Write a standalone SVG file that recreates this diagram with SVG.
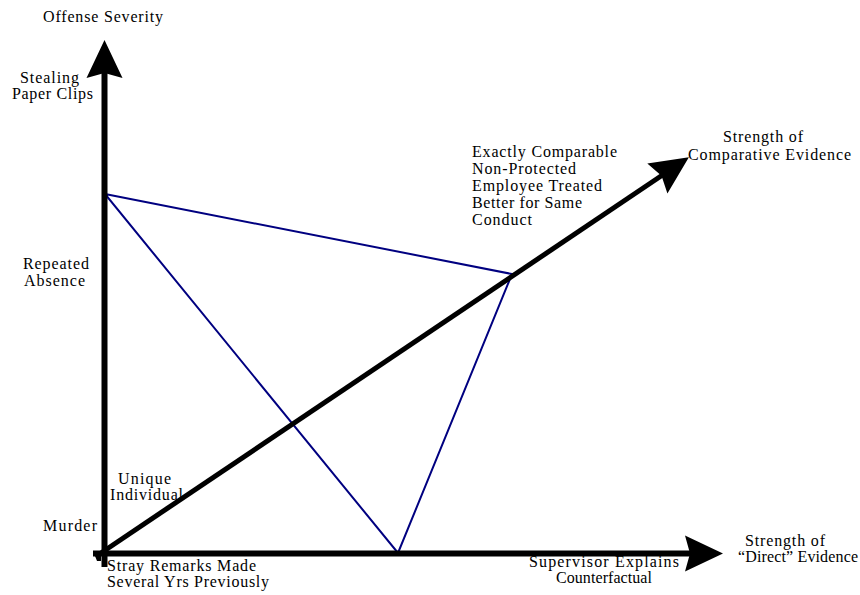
<svg xmlns="http://www.w3.org/2000/svg" width="860" height="595" viewBox="0 0 860 595">
<style>
text { font-family: "Liberation Serif", "Times New Roman", serif; font-size: 16px; fill: #000; }
.axis { stroke: #000; stroke-width: 6; fill: none; }
.diag { stroke: #000; stroke-width: 5; fill: none; }
.tri { stroke: #000080; stroke-width: 2; fill: none; stroke-linejoin: miter; }
</style>
<defs>
<marker id="head" markerUnits="userSpaceOnUse" viewBox="-10 -20 45 40" markerWidth="45" markerHeight="40" refX="0" refY="0" orient="auto" overflow="visible">
<path d="M30,0 L-8,-18 L-3,0 L-8,18 Z" fill="#000"/>
</marker>
</defs>
<rect width="860" height="595" fill="#fff"/>
<g id="connectors">
<polygon points="105,194 512,274 398,553" class="tri"/>
<line class="axis" x1="104.5" y1="567" x2="104.5" y2="70" marker-end="url(#head)"/>
<line class="axis" x1="93" y1="553.5" x2="693" y2="553.5" marker-end="url(#head)"/>
<polygon points="93,551 101,551 101,561 97,561" fill="#000"/>
<line class="diag" x1="101" y1="553" x2="664" y2="174" marker-end="url(#head)"/>
</g>
<g id="y-axis-title"><text x="43" y="22" textLength="120" lengthAdjust="spacing">Offense Severity</text></g>
<g id="stealing"><text x="20" y="83" textLength="59" lengthAdjust="spacing">Stealing</text><text x="12" y="99" textLength="81" lengthAdjust="spacing">Paper Clips</text></g>
<g id="repeated"><text x="23" y="269" textLength="66" lengthAdjust="spacing">Repeated</text><text x="24" y="286" textLength="61" lengthAdjust="spacing">Absence</text></g>
<g id="murder"><text x="43" y="531" textLength="54" lengthAdjust="spacing">Murder</text></g>
<g id="unique"><text x="118" y="484" textLength="53" lengthAdjust="spacing">Unique</text><text x="110" y="500" textLength="73" lengthAdjust="spacing">Individual</text></g>
<g id="stray"><text x="107" y="571" textLength="149" lengthAdjust="spacing">Stray Remarks Made</text><text x="107" y="587" textLength="162" lengthAdjust="spacing">Several Yrs Previously</text></g>
<g id="supervisor"><text x="529" y="567" textLength="150" lengthAdjust="spacing">Supervisor Explains</text><text x="556" y="583" textLength="96" lengthAdjust="spacing">Counterfactual</text></g>
<g id="x-axis-title"><text x="745" y="546" textLength="80" lengthAdjust="spacing">Strength of</text><text x="738" y="562" textLength="120" lengthAdjust="spacing">“Direct” Evidence</text></g>
<g id="comparable"><text x="472" y="157" textLength="145" lengthAdjust="spacing">Exactly Comparable</text><text x="472" y="174" textLength="104" lengthAdjust="spacing">Non-Protected</text><text x="472" y="191" textLength="130" lengthAdjust="spacing">Employee Treated</text><text x="472" y="208" textLength="110" lengthAdjust="spacing">Better for Same</text><text x="472" y="225" textLength="60" lengthAdjust="spacing">Conduct</text></g>
<g id="diag-axis-title"><text x="723" y="142" textLength="80" lengthAdjust="spacing">Strength of</text><text x="688" y="160" textLength="163" lengthAdjust="spacing">Comparative Evidence</text></g>
</svg>
